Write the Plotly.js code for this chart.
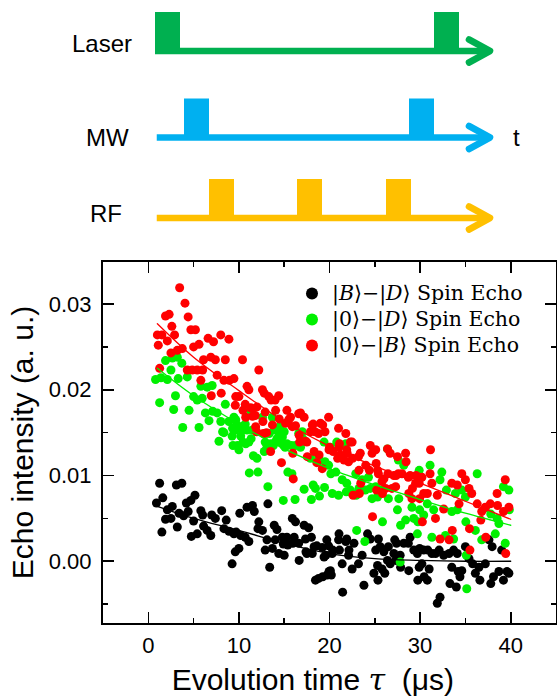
<!DOCTYPE html>
<html><head><meta charset="utf-8">
<script src="https://cdn.plot.ly/plotly-3.0.1.min.js"></script>
<style>
html,body{margin:0;padding:0;background:#fff;}
#chart{width:557px;height:697px;}
.js-line{stroke-linecap:round;stroke-linejoin:round;}
</style>
</head><body><div id="chart"></div>
<script>
// ---------- pulse sequence (schematic time units) ----------
const channels = ['Laser', 'MW', 'RF'];
const channelColors = ['#00B050', '#00B0F0', '#FFC000'];
const laserPulses = [[0, 1], [11.16, 12.16]];
const mwPulses = [[1.16, 2.16], [10.16, 11.16]];
const rfPulses = [[2.16, 3.16], [5.68, 6.68], [9.24, 10.24]];
const seqStart = [0, 0.07, 0.07];
const seqEnd = 13.4;

// ---------- echo data ----------
const blackX = [0.9,1.25,1.5,1.6,1.9,2.1,2.5,2.65,3.1,3.2,
3.4,3.7,3.9,4.2,4.4,4.7,4.75,5.0,5.15,5.4,
5.8,6.0,6.1,6.5,6.9,7.0,7.4,8.1,8.35,8.6,
8.9,9.25,9.45,9.6,9.7,10.0,10.1,10.2,10.7,10.9,
11.1,11.5,11.7,12.1,12.2,12.6,12.9,13.1,13.2,13.4,
13.7,13.9,14.0,14.2,14.4,14.8,14.9,15.0,15.3,15.4,
15.9,15.95,16.1,16.25,16.6,16.65,17.2,17.35,17.4,17.5,
17.7,18.0,18.1,18.3,18.45,18.6,18.8,19.2,19.25,19.4,
19.6,19.7,19.75,19.9,19.95,20.1,20.2,20.3,20.35,21.0,
21.05,21.1,21.4,21.45,21.8,21.9,22.1,22.15,22.5,22.7,
23.2,23.6,23.8,24.2,24.5,24.9,25.1,25.3,25.35,25.4,
25.6,25.8,26.0,26.1,26.4,26.5,26.7,27.1,27.2,27.3,
27.4,27.8,27.85,28.2,28.7,28.75,28.9,29.3,29.7,29.75,
29.9,29.95,30.2,30.4,30.45,30.8,30.85,31.0,31.3,31.7,
31.9,32.1,32.2,32.6,33.2,33.3,33.5,33.7,34.0,34.1,
34.2,34.4,34.6,35.0,35.4,35.8,36.1,36.5,36.6,37.2,
37.6,37.8,37.95,38.1,38.7,39.0,39.2,39.6,39.8];
const blackY = [0.0068,0.0091,0.0034,0.0074,0.0049,0.0060,0.0050,0.0064,0.0089,0.0040,
0.0056,0.0091,0.0053,0.0068,0.0058,0.0071,0.0029,0.0047,0.0077,0.0032,
0.0059,0.0054,0.0041,0.0036,0.0030,0.0054,0.0050,0.0059,0.0038,0.0048,
0.0035,-0.0003,0.0032,0.0011,0.0034,0.0015,0.0056,0.0030,0.0028,0.0063,
0.0023,0.0065,0.0058,0.0038,0.0046,0.0036,0.0013,0.0025,0.0067,-0.0007,
0.0015,0.0042,0.0025,0.0037,0.0009,0.0028,0.0020,0.0007,0.0028,0.0019,
0.0050,0.0021,0.0028,0.0046,0.0021,0.0001,0.0042,0.0026,0.0011,0.0009,
0.0039,0.0028,0.0009,0.0017,-0.0022,0.0018,-0.0020,0.0016,-0.0018,0.0005,
0.0007,0.0025,-0.0016,0.0018,-0.0012,-0.0011,-0.0016,0.0009,0.0013,0.0025,
0.0032,0.0013,-0.0003,-0.0036,0.0023,0.0026,0.0007,0.0013,-0.0009,0.0021,
-0.0003,0.0007,-0.0028,0.0032,0.0026,-0.0014,0.0013,-0.0005,-0.0022,0.0026,
0.0017,-0.0009,0.0011,-0.0014,0.0001,0.0017,-0.0003,0.0009,0.0025,0.0001,
0.0021,0.0007,-0.0007,0.0021,0.0021,-0.0011,0.0028,0.0013,0.0009,-0.0022,
-0.0007,0.0015,-0.0003,0.0013,-0.0018,-0.0022,0.0013,-0.0009,0.0009,0.0009,
-0.0049,0.0013,-0.0042,0.0007,0.0009,-0.0026,-0.0007,0.0013,-0.0030,0.0009,
-0.0012,-0.0018,-0.0011,0.0017,0.0003,-0.0003,-0.0014,-0.0007,-0.0022,-0.0003,
0.0025,-0.0026,0.0017,-0.0018,-0.0012,0.0013,-0.0022,-0.0012,-0.0014];

const greenX = [0.8,1.25,1.4,1.9,2.1,2.5,2.65,2.8,3.0,3.2,
3.3,3.7,3.8,4.3,4.5,5.0,5.4,5.6,5.8,5.95,
6.3,6.5,6.7,7.05,7.1,7.6,7.8,8.0,8.2,8.35,
8.5,8.9,9.25,9.3,9.35,9.45,9.6,9.65,9.8,9.85,
10.0,10.2,10.4,10.45,10.55,10.7,10.75,10.9,11.1,11.15,
11.3,11.35,11.5,11.6,12.0,12.1,12.6,12.8,12.95,12.9,
13.1,13.2,13.3,13.35,13.5,13.7,13.8,13.9,14.0,14.2,
14.4,14.45,14.6,14.65,14.8,14.9,14.95,15.0,15.1,15.3,
15.4,15.8,15.85,16.2,16.25,16.6,16.8,17.0,17.05,17.2,
17.9,18.0,18.2,18.45,18.8,18.9,19.4,19.45,19.5,19.9,
20.1,20.15,20.3,20.7,20.8,21.0,21.4,21.8,21.85,21.9,
22.3,22.5,22.9,22.95,23.0,23.2,23.25,23.6,23.9,23.95,
24.3,24.5,24.7,25.1,25.3,25.8,25.85,26.4,26.5,27.5,
27.6,27.65,27.8,27.85,28.2,28.4,29.1,29.3,29.7,29.75,
29.9,29.95,30.4,30.8,31.1,31.3,31.5,32.2,32.4,32.8,
32.9,33.5,33.7,33.9,34.1,34.6,35.0,35.05,35.1,35.15,
36.1,36.3,36.8,37.2,37.8,38.3,38.5,38.7,39.2,39.4,
39.8,39.85];
const greenY = [0.0212,0.0185,0.0214,0.0234,0.0212,0.0223,0.0237,0.0177,0.0193,0.0238,
0.0213,0.0231,0.0156,0.0215,0.0176,0.0192,0.0188,0.0156,0.0204,0.0190,
0.0173,0.0203,0.0164,0.0205,0.0175,0.0173,0.0140,0.0163,0.0151,0.0150,
0.0183,0.0163,0.0146,0.0155,0.0135,0.0168,0.0153,0.0165,0.0159,0.0135,
0.0130,0.0146,0.0153,0.0139,0.0158,0.0160,0.0137,0.0153,0.0139,0.0103,
0.0176,0.0143,0.0153,0.0123,0.0120,0.0104,0.0168,0.0128,0.0149,0.0139,
0.0133,0.0087,0.0131,0.0149,0.0137,0.0168,0.0135,0.0153,0.0139,0.0143,
0.0153,0.0149,0.0159,0.0139,0.0145,0.0071,0.0135,0.0151,0.0133,0.0137,
0.0104,0.0135,0.0102,0.0072,0.0135,0.0149,0.0133,0.0151,0.0143,0.0084,
0.0120,0.0072,0.0089,0.0085,0.0122,0.0076,0.0139,0.0086,0.0116,0.0112,
0.0133,0.0102,0.0079,0.0104,0.0139,0.0077,0.0095,0.0137,0.0081,0.0091,
0.0083,0.0079,0.0102,0.0077,0.0036,0.0081,0.0085,0.0095,0.0023,0.0083,
0.0098,0.0085,0.0073,0.0087,0.0075,0.0083,0.0046,0.0131,0.0073,0.0060,
0.0118,0.0073,-0.0001,0.0042,0.0112,0.0048,0.0063,0.0050,0.0032,0.0046,
0.0106,0.0060,0.0054,0.0067,0.0112,0.0028,0.0060,0.0095,0.0104,0.0030,
0.0083,0.0058,0.0026,0.0079,0.0060,0.0083,0.0075,0.0046,0.0007,-0.0032,
0.0036,0.0102,0.0025,0.0062,0.0055,0.0032,0.0050,0.0044,0.0087,0.0021,
0.0083,0.0060];

const redX = [1.0,1.1,1.25,1.5,1.9,2.1,2.3,2.5,2.6,2.9,
3.2,3.46,3.75,4.05,4.3,4.4,4.7,4.85,5.0,5.2,
5.4,5.6,5.8,6.0,6.1,6.6,6.9,6.95,7.2,7.4,
7.6,8.0,8.05,8.35,8.5,8.9,8.95,9.45,9.6,9.65,
10.0,10.4,10.45,10.7,10.75,10.9,11.1,11.3,11.5,11.55,
11.8,11.85,11.95,12.0,12.2,12.6,12.65,12.7,12.8,12.9,
13.05,13.3,13.5,13.55,13.7,14.0,14.05,14.4,14.45,14.7,
15.15,15.3,15.5,15.7,15.9,15.95,16.0,16.25,16.6,16.65,
16.7,16.8,17.2,17.35,17.5,17.55,17.9,18.1,18.2,18.3,
18.4,18.6,18.8,18.85,19.0,19.2,19.25,19.5,19.9,19.95,
20.0,20.4,20.9,21.0,21.05,21.1,21.2,21.6,21.8,21.9,
21.95,22.1,22.3,22.5,22.55,22.6,23.2,23.25,23.3,23.4,
23.45,24.0,24.4,24.5,24.7,24.75,25.1,25.15,25.2,25.3,
25.4,25.8,25.85,26.0,26.2,26.4,26.45,26.7,26.9,27.1,
27.3,27.35,27.5,27.6,28.0,28.4,28.45,28.7,28.75,28.9,
29.1,29.15,29.5,29.55,29.9,29.95,30.2,30.25,30.4,30.8,
31.1,31.15,31.3,31.7,31.9,32.2,32.6,33.2,33.5,33.55,
34.1,34.3,34.6,35.0,35.4,35.45,35.5,35.7,36.3,36.7,
36.8,37.2,37.25,37.75,38.5,38.55,39.2,39.4,39.45,39.8];
const redY = [0.0264,0.0252,0.0225,0.0264,0.0286,0.0257,0.0288,0.0243,0.0274,0.0264,
0.0246,0.0319,0.0248,0.0301,0.0223,0.0285,0.0270,0.0223,0.0250,0.0270,
0.0223,0.0253,0.0211,0.0223,0.0235,0.0260,0.0238,0.0193,0.0256,0.0235,
0.0217,0.0264,0.0196,0.0211,0.0235,0.0259,0.0211,0.0213,0.0182,0.0192,
0.0192,0.0235,0.0176,0.0183,0.0168,0.0204,0.0200,0.0179,0.0169,0.0178,
0.0170,0.0157,0.0151,0.0180,0.0223,0.0200,0.0163,0.0149,0.0196,0.0174,
0.0150,0.0192,0.0128,0.0188,0.0159,0.0188,0.0176,0.0193,0.0166,0.0115,
0.0161,0.0176,0.0165,0.0168,0.0157,0.0126,0.0096,0.0158,0.0172,0.0147,
0.0139,0.0173,0.0168,0.0140,0.0139,0.0122,0.0151,0.0159,0.0160,0.0128,
0.0151,0.0115,0.0149,0.0124,0.0161,0.0108,0.0159,0.0151,0.0168,0.0130,
0.0133,0.0128,0.0120,0.0155,0.0133,0.0137,0.0124,0.0118,0.0149,0.0130,
0.0126,0.0116,0.0139,0.0139,0.0120,0.0077,0.0122,0.0106,0.0079,0.0126,
0.0091,0.0112,0.0106,0.0135,0.0126,0.0052,0.0130,0.0114,0.0083,0.0106,
0.0102,0.0093,0.0079,0.0096,0.0085,0.0131,0.0102,0.0126,0.0085,0.0100,
0.0087,0.0100,0.0122,0.0102,0.0102,0.0126,0.0116,0.0098,0.0079,0.0100,
0.0073,0.0085,0.0091,0.0100,0.0091,0.0073,0.0098,0.0046,0.0079,0.0079,
0.0102,0.0130,0.0091,0.0050,0.0077,0.0026,0.0061,0.0025,0.0091,0.0036,
0.0089,0.0067,0.0102,0.0095,0.0085,0.0038,0.0013,0.0079,0.0067,0.0048,
0.0058,0.0063,0.0028,0.0067,0.0079,0.0065,0.0058,0.0095,0.0009,0.0063];

// fitted decay curves
const fitX = [1, 5, 10, 15, 20, 25, 30, 35, 40];
const blackFit = [0.0064, 0.0050, 0.0036, 0.0021, 0.0009, 0.0003, 0.0001, 0.0000, 0.0000];
const greenFit = [0.0225, 0.0193, 0.0160, 0.0131, 0.0108, 0.0089, 0.0072, 0.0056, 0.0042];
const redFit = [0.0277, 0.0238, 0.0199, 0.0163, 0.0134, 0.0111, 0.0091, 0.0070, 0.0049];

const seriesNames = [
  '|<i>B</i>⟩−|<i>D</i>⟩ Spin Echo',
  '|0⟩−|<i>D</i>⟩ Spin Echo',
  '|0⟩−|<i>B</i>⟩ Spin Echo'
];
const seriesColors = ['#000000', '#00F000', '#FF0000'];

// ---------- layout geometry ----------
const W = 557, H = 697;
const plotL = 103, plotR = 556, plotT = 262, plotB = 623;
const seqRows = [51, 137.5, 218];      // baseline rows (px from top) in the sequence panel
const pulseH = 39, lineThk = 6.6, chevHalf = 11.5, chevBack = 0.84;
const labelX = [-2.12, -1.92, -1.98];

const traces = [];
const dataX = [blackX, greenX, redX], dataY = [blackY, greenY, redY];
for (let i = 0; i < 3; i++) {
  traces.push({
    x: dataX[i], y: dataY[i], type: 'scatter', mode: 'markers',
    name: '<span style="font-size:20.5px">' + seriesNames[i] + '</span>',
    marker: {color: seriesColors[i], size: 9, line: {width: 0}},
    xaxis: 'x', yaxis: 'y'
  });
}
const fits = [blackFit, greenFit, redFit];
for (let i = 0; i < 3; i++) {
  traces.push({
    x: fitX, y: fits[i], type: 'scatter', mode: 'lines', showlegend: false,
    line: {color: seriesColors[i], width: 1.3, shape: 'spline'},
    xaxis: 'x', yaxis: 'y'
  });
}

// sequence panel
const shapes = [];
const pulseSets = [laserPulses, mwPulses, rfPulses];
for (let c = 0; c < 3; c++) {
  const yb = seqRows[c], col = channelColors[c];
  shapes.push({type: 'rect', xref: 'x2', yref: 'y2', x0: seqStart[c], x1: seqEnd,
    y0: yb - lineThk / 2, y1: yb + lineThk / 2, fillcolor: col, line: {width: 0}});
  pulseSets[c].forEach(p => {
    shapes.push({type: 'rect', xref: 'x2', yref: 'y2', x0: p[0], x1: p[1],
      y0: yb, y1: yb - pulseH, fillcolor: col, line: {width: 0}});
  });
  traces.push({
    x: [seqEnd - chevBack, seqEnd, seqEnd - chevBack],
    y: [yb - chevHalf, yb, yb + chevHalf],
    type: 'scatter', mode: 'lines', showlegend: false,
    line: {color: col, width: lineThk}, xaxis: 'x2', yaxis: 'y2', hoverinfo: 'skip'
  });
}

const annotations = [];
const labelY = [43, 137.5, 213.5];
for (let c = 0; c < 3; c++) {
  annotations.push({xref: 'x2', yref: 'y2', x: labelX[c], y: labelY[c],
    text: channels[c], showarrow: false, xanchor: 'center', yanchor: 'middle',
    font: {family: 'Liberation Sans, Arial, sans-serif', size: 24, color: '#000'}});
}
annotations.push({xref: 'x2', yref: 'y2', x: 14.44, y: seqRows[1], text: 't', showarrow: false,
  xanchor: 'center', yanchor: 'middle',
  font: {family: 'Liberation Sans, Arial, sans-serif', size: 24, color: '#000'}});

const axFont = {family: 'Liberation Sans, Arial, sans-serif', size: 22, color: '#000'};
const titleFont = {family: 'Liberation Sans, Arial, sans-serif', size: 30, color: '#000'};
const layout = {
  width: W, height: H,
  margin: {l: 0, r: 0, t: 0, b: 0},
  paper_bgcolor: '#fff', plot_bgcolor: '#fff',
  showlegend: true,
  legend: {x: 292 / W, y: 1 - 275.5 / H, xanchor: 'left', yanchor: 'top',
    bgcolor: 'rgba(0,0,0,0)', borderwidth: 0,
    font: {family: 'DejaVu Serif, Liberation Serif, serif', size: 17.7, color: '#000'},
    itemsizing: 'constant', tracegroupgap: 0},
  xaxis: {
    domain: [plotL / W, plotR / W], range: [-5, 45], tick0: 0, dtick: 10,
    ticks: 'inside', ticklen: 11, tickwidth: 1.6, tickcolor: '#000',
    minor: {dtick: 5, ticks: 'inside', ticklen: 5, tickwidth: 1.6, tickcolor: '#000'},
    showline: true, linewidth: 2, linecolor: '#000', mirror: 'ticks',
    showgrid: false, zeroline: false, tickfont: axFont, ticklabelstandoff: 2,
    title: {text: 'Evolution time <span style="font-family:DejaVu Serif"><i>τ</i></span>  (μs)\u00a0\u00a0\u00a0\u00a0\u200b',
      font: titleFont, standoff: 19},
    anchor: 'y'
  },
  yaxis: {
    domain: [(H - plotB) / H, (H - plotT) / H], range: [-0.0072, 0.0349], tick0: 0, dtick: 0.01,
    tickformat: '.2f',
    ticks: 'inside', ticklen: 11, tickwidth: 1.6, tickcolor: '#000',
    minor: {dtick: 0.005, ticks: 'inside', ticklen: 5, tickwidth: 1.6, tickcolor: '#000'},
    showline: true, linewidth: 2, linecolor: '#000', mirror: 'ticks',
    showgrid: false, zeroline: false, tickfont: axFont, ticklabelstandoff: 5,
    title: {text: 'Echo intensity (a. u.)', font: titleFont, standoff: 6},
    anchor: 'x'
  },
  xaxis2: {domain: [0, 1], range: [-6.2, 16.08], visible: false, fixedrange: true, anchor: 'y2'},
  yaxis2: {domain: [(H - 250) / H, 1], range: [250, 0], visible: false, fixedrange: true, anchor: 'x2'},
  shapes: shapes,
  annotations: annotations
};

Plotly.newPlot('chart', traces, layout, {staticPlot: true, displayModeBar: false});
</script></body></html>
